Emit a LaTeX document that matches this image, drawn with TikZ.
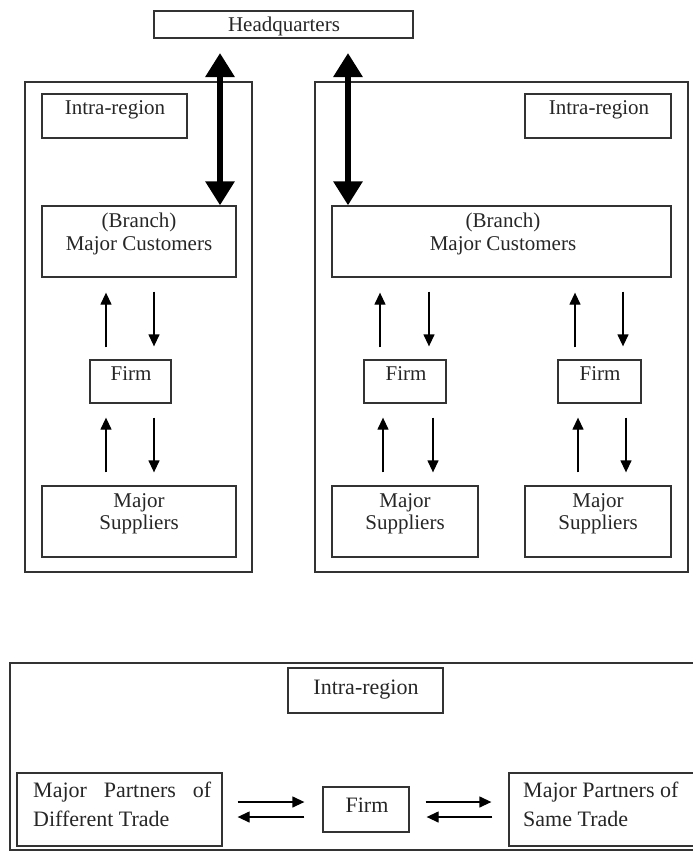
\documentclass[tikz,border=0pt]{standalone}
\usepackage{fontspec}
\setmainfont{Liberation Serif}
\usetikzlibrary{arrows.meta,calc}
\begin{document}
\begin{tikzpicture}[x=1pt,y=-1pt,
  box/.style={draw=black!80, line width=1.3pt, inner sep=0pt},
  txt/.style={font=\fontsize{21}{23}\selectfont, inner sep=0pt, anchor=base, text=black!85},
  btxt/.style={font=\fontsize{22}{26}\selectfont, inner sep=0pt, anchor=base west, text=black!85},
  arr/.style={line width=1.3pt, -{Triangle[length=12pt,width=11pt]}},
  big/.style={line width=6pt, {Triangle[length=24pt,width=28pt]}-{Triangle[length=24pt,width=28pt]}}]
\useasboundingbox (0,0) rectangle (693,852);

% boxes
\node[box, minimum width=259pt, minimum height=27pt] (HQ) at (283.5,24.5) {};
\node[box, minimum width=227pt, minimum height=490pt] (LOut) at (138.5,327) {};
\node[box, minimum width=373pt, minimum height=490pt] (ROut) at (501.5,327) {};
\node[box, minimum width=145pt, minimum height=44pt] (LIntra) at (114.5,116) {};
\node[box, minimum width=146pt, minimum height=44pt] (RIntra) at (598,116) {};
\node[box, minimum width=194pt, minimum height=71pt] (LBranch) at (139,241.5) {};
\node[box, minimum width=339pt, minimum height=71pt] (RBranch) at (501.5,241.5) {};
\node[box, minimum width=81pt, minimum height=43pt] (LFirm) at (130.5,381.5) {};
\node[box, minimum width=82pt, minimum height=43pt] (RFirmA) at (405,381.5) {};
\node[box, minimum width=83pt, minimum height=43pt] (RFirmB) at (599.5,381.5) {};
\node[box, minimum width=194pt, minimum height=71pt] (LSup) at (139,521.5) {};
\node[box, minimum width=146pt, minimum height=71pt] (RSupA) at (405,521.5) {};
\node[box, minimum width=146pt, minimum height=71pt] (RSupB) at (598,521.5) {};
\node[box, minimum width=690pt, minimum height=187pt] (BOut) at (355,756.5) {};
\node[box, minimum width=155pt, minimum height=45pt] (BIntra) at (365.5,690.5) {};
\node[box, minimum width=205pt, minimum height=73pt] (PDiff) at (119.5,809.5) {};
\node[box, minimum width=86pt, minimum height=45pt] (BFirm) at (366,809.5) {};
\node[box, minimum width=191pt, minimum height=73pt] (PSame) at (604.5,809.5) {};

% texts
\node[txt] (tHQ) at (284,31) {Headquarters};
\node[txt] (tLI) at (115,114) {Intra-region};
\node[txt] (tRI) at (599,114) {Intra-region};
\node[txt] (tLB1) at (139,227) {(Branch)};
\node[txt] (tLB2) at (139,250) {Major Customers};
\node[txt] (tRB1) at (503,227) {(Branch)};
\node[txt] (tRB2) at (503,250) {Major Customers};
\node[txt] (tLF) at (131,380) {Firm};
\node[txt] (tRFA) at (406,380) {Firm};
\node[txt] (tRFB) at (600,380) {Firm};
\node[txt] (tLS1) at (139,507) {Major};
\node[txt] (tLS2) at (139,529) {Suppliers};
\node[txt] (tRSA1) at (405,507) {Major};
\node[txt] (tRSA2) at (405,529) {Suppliers};
\node[txt] (tRSB1) at (598,507) {Major};
\node[txt] (tRSB2) at (598,529) {Suppliers};
\node[txt, font=\fontsize{22}{26}\selectfont] (tBI) at (366,694) {Intra-region};
\node[txt, font=\fontsize{22}{26}\selectfont] (tBF) at (367,812) {Firm};
\node[btxt] (tPD1) at (33,797) {\makebox[178pt][s]{Major Partners of}};
\node[btxt] (tPD2) at (33,826) {Different Trade};
\node[btxt] (tPS1) at (523,797) {Major Partners of};
\node[btxt] (tPS2) at (523,826) {Same Trade};

% thick arrows to headquarters
\coordinate (hl) at (220,53);
\coordinate (hr) at (348,53);
\draw[big] (hl) -- (hl |- LBranch.north);
\draw[big] (hr) -- (hr |- RBranch.north);

% left panel
\draw[arr] ([xshift=-24.5pt,yshift=12pt]LFirm.north) -- ([xshift=-33pt,yshift=-15pt]LBranch.south);
\draw[arr] ([xshift=15pt,yshift=-14pt]LBranch.south) -- ([xshift=23.5pt,yshift=13pt]LFirm.north);
\draw[arr] ([xshift=-33pt,yshift=13pt]LSup.north) -- ([xshift=-24.5pt,yshift=-14pt]LFirm.south);
\draw[arr] ([xshift=23.5pt,yshift=-14pt]LFirm.south) -- ([xshift=15pt,yshift=13pt]LSup.north);

% right panel, first firm
\draw[arr] ([xshift=-25pt,yshift=12pt]RFirmA.north) -- ([xshift=-121.5pt,yshift=-15pt]RBranch.south);
\draw[arr] ([xshift=-72.5pt,yshift=-14pt]RBranch.south) -- ([xshift=24pt,yshift=13pt]RFirmA.north);
\draw[arr] ([xshift=-22pt,yshift=13pt]RSupA.north) -- ([xshift=-22pt,yshift=-14pt]RFirmA.south);
\draw[arr] ([xshift=28pt,yshift=-14pt]RFirmA.south) -- ([xshift=28pt,yshift=13pt]RSupA.north);

% right panel, second firm
\draw[arr] ([xshift=-24.5pt,yshift=12pt]RFirmB.north) -- ([xshift=73.5pt,yshift=-15pt]RBranch.south);
\draw[arr] ([xshift=121.5pt,yshift=-14pt]RBranch.south) -- ([xshift=23.5pt,yshift=13pt]RFirmB.north);
\draw[arr] ([xshift=-20pt,yshift=13pt]RSupB.north) -- ([xshift=-21.5pt,yshift=-14pt]RFirmB.south);
\draw[arr] ([xshift=26.5pt,yshift=-14pt]RFirmB.south) -- ([xshift=28pt,yshift=13pt]RSupB.north);

% bottom panel
\draw[arr] ([xshift=15pt,yshift=7.5pt]PDiff.east) -- ([xshift=-18pt,yshift=7.5pt]BFirm.west);
\draw[arr] ([xshift=-18pt,yshift=-7.5pt]BFirm.west) -- ([xshift=15pt,yshift=-7.5pt]PDiff.east);
\draw[arr] ([xshift=16pt,yshift=7.5pt]BFirm.east) -- ([xshift=-17pt,yshift=7.5pt]PSame.west);
\draw[arr] ([xshift=-16pt,yshift=-7.5pt]PSame.west) -- ([xshift=17pt,yshift=-7.5pt]BFirm.east);
\end{tikzpicture}
\end{document}
